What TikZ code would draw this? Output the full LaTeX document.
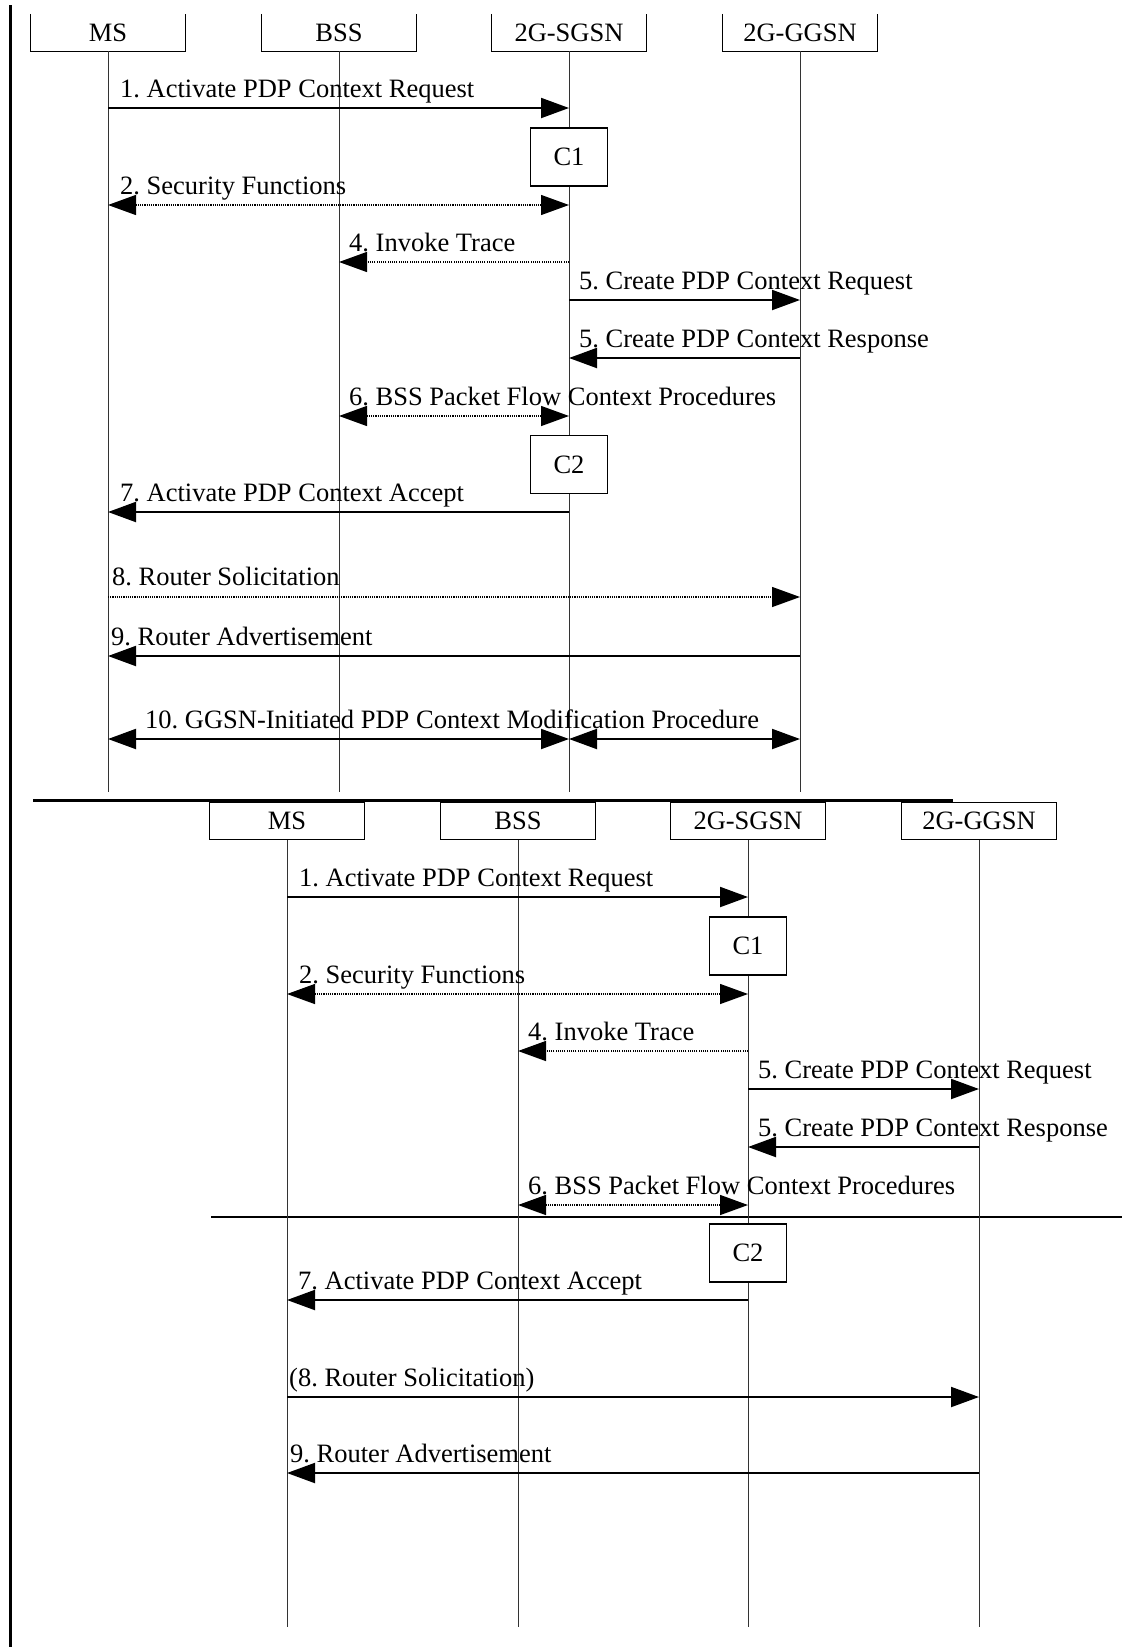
\documentclass[tikz,border=0pt]{standalone}
\usepackage{fontspec}
\setmainfont{Liberation Serif}
\usetikzlibrary{arrows.meta}
\begin{document}
\begin{tikzpicture}[x=1pt, y=-1pt, >={Triangle[length=28pt,width=20pt]},
    every node/.style={font=\fontsize{26.5}{31}\selectfont\frenchspacing},
    entity/.style={minimum width=155pt, minimum height=37pt, inner sep=0pt},
    ctrl/.style={draw, line width=1.5pt, fill=white, minimum width=77pt, minimum height=58pt, inner sep=0pt},
    life/.style={line width=0.8pt, black!80},
    msg/.style={line width=2pt},
    sig/.style={line width=1.3pt, dash pattern=on 1.1pt off 1.1pt},
    lbl/.style={anchor=base west, inner sep=0pt}]
    \useasboundingbox (0,0) rectangle (1122,1647);

    % border and separators
    \draw[line width=3pt] (10,5) -- (10,1647);
    \draw[line width=3pt] (33,800) -- (953,800);
    \draw[line width=2pt] (211,1217) -- (1122,1217);

    % upper chart
    \foreach \n/\t/\x in {ms/MS/108, bss/BSS/339, sgsn/2G-SGSN/569, ggsn/2G-GGSN/800} {
        \node[entity] (\n) at (\x,32.5) {\t};
        \draw[line width=1.2pt] (\n.north west) -- (\n.south west) -- (\n.south east) -- (\n.north east);
        \draw[life] (\n.south) -- (\n |- 0,792);
    }
    \draw[msg, ->] (ms |- 0,108) -- (sgsn |- 0,108);
    \node[lbl] (m1) at (120,97) {1. Activate PDP Context Request};
    \node[ctrl] (c1) at (569,157) {C1};
    \draw[sig, <->] (ms |- 0,205) -- (sgsn |- 0,205);
    \node[lbl] (m2) at (120,194) {2. Security Functions};
    \draw[sig, ->] (sgsn |- 0,262) -- (bss |- 0,262);
    \node[lbl] (m4) at (349,251) {4. Invoke Trace};
    \draw[msg, ->] (sgsn |- 0,300) -- (ggsn |- 0,300);
    \node[lbl] (m5a) at (579,289) {5. Create PDP Context Request};
    \draw[msg, ->] (ggsn |- 0,358) -- (sgsn |- 0,358);
    \node[lbl] (m5b) at (579,347) {5. Create PDP Context Response};
    \draw[sig, <->] (bss |- 0,416) -- (sgsn |- 0,416);
    \node[lbl] (m6) at (349,405) {6. BSS Packet Flow Context Procedures};
    \node[ctrl] (c2) at (569,464.5) {C2};
    \draw[msg, ->] (sgsn |- 0,512) -- (ms |- 0,512);
    \node[lbl] (m7) at (120,501) {7. Activate PDP Context Accept};
    \draw[sig, ->] (ms |- 0,597) -- (ggsn |- 0,597);
    \node[lbl] (m8) at (112,585) {8. Router Solicitation};
    \draw[msg, ->] (ggsn |- 0,656) -- (ms |- 0,656);
    \node[lbl] (m9) at (111,645) {9. Router Advertisement};
    \draw[msg, <->] (ms |- 0,739) -- (sgsn |- 0,739);
    \draw[msg, <->] (sgsn |- 0,739) -- (ggsn |- 0,739);
    \node[lbl] (m10) at (145,728) {10. GGSN-Initiated PDP Context Modification Procedure};

    % lower chart
    \foreach \n/\t/\x in {ms2/MS/287, bss2/BSS/518, sgsn2/2G-SGSN/748, ggsn2/2G-GGSN/979} {
        \node[entity, draw, line width=1.2pt] (\n) at (\x,821) {\t};
        \draw[life] (\n.south) -- (\n |- 0,1627);
    }
    \draw[msg, ->] (ms2 |- 0,897) -- (sgsn2 |- 0,897);
    \node[lbl] (n1) at (299,886) {1. Activate PDP Context Request};
    \node[ctrl] (c3) at (748,946) {C1};
    \draw[sig, <->] (ms2 |- 0,994) -- (sgsn2 |- 0,994);
    \node[lbl] (n2) at (299,983) {2. Security Functions};
    \draw[sig, ->] (sgsn2 |- 0,1051) -- (bss2 |- 0,1051);
    \node[lbl] (n4) at (528,1040) {4. Invoke Trace};
    \draw[msg, ->] (sgsn2 |- 0,1089) -- (ggsn2 |- 0,1089);
    \node[lbl] (n5a) at (758,1078) {5. Create PDP Context Request};
    \draw[msg, ->] (ggsn2 |- 0,1147) -- (sgsn2 |- 0,1147);
    \node[lbl] (n5b) at (758,1136) {5. Create PDP Context Response};
    \draw[sig, <->] (bss2 |- 0,1205) -- (sgsn2 |- 0,1205);
    \node[lbl] (n6) at (528,1194) {6. BSS Packet Flow Context Procedures};
    \node[ctrl] (c4) at (748,1253) {C2};
    \draw[msg, ->] (sgsn2 |- 0,1300) -- (ms2 |- 0,1300);
    \node[lbl] (n7) at (298,1289) {7. Activate PDP Context Accept};
    \draw[msg, ->] (ms2 |- 0,1397) -- (ggsn2 |- 0,1397);
    \node[lbl] (n8) at (289,1386) {(8. Router Solicitation)};
    \draw[msg, ->] (ggsn2 |- 0,1473) -- (ms2 |- 0,1473);
    \node[lbl] (n9) at (290,1462) {9. Router Advertisement};
\end{tikzpicture}
\end{document}
